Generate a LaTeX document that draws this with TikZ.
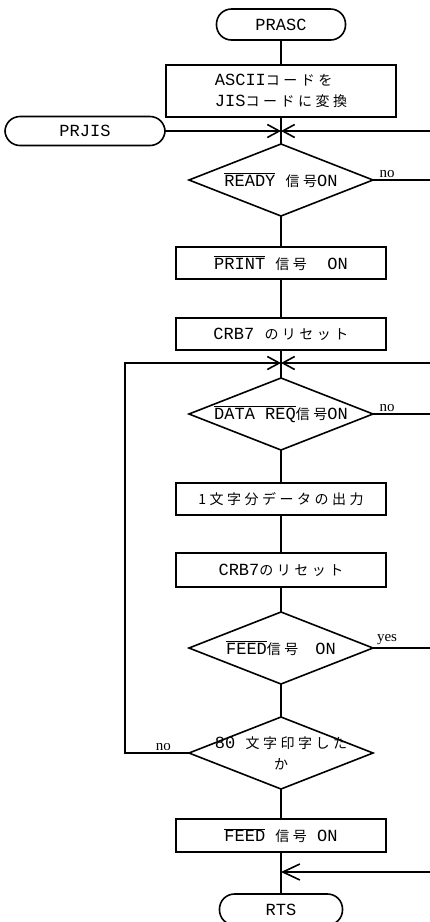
\documentclass[tikz,border=0pt]{standalone}
\usepackage{fontspec}
\setmainfont{Liberation Mono}
\newfontfamily\jp{Noto Sans CJK JP}[LetterSpace=25]
\newfontfamily\lbl{Liberation Serif}
\usetikzlibrary{arrows.meta,positioning,shapes.geometric}
\newcommand{\ovl}[1]{$\overline{\hbox{#1}}$}
\newcommand{\jpt}[1]{{\jp\fontsize{14}{17}\selectfont #1}}
\tikzset{
  term/.style={
    draw,line width=1.6pt,rounded corners=15pt,
    minimum height=31pt,inner sep=0pt,outer sep=0pt
  },
  proc/.style={
    draw,line width=1.6pt,
    minimum width=210pt,minimum height=32pt,inner sep=0pt,outer sep=0pt
  },
  dec/.style={
    draw,diamond,aspect=2.55,line width=1.6pt,
    minimum width=184pt,minimum height=72pt,inner sep=0pt,outer sep=0pt
  },
  wire/.style={line width=1.6pt},
  merge/.style={-{Straight Barb[length=12pt,width=13pt]},line width=1.6pt},
  lab/.style={font=\lbl\fontsize{15}{15}\selectfont,inner sep=2pt}
}

\begin{document}
\begin{tikzpicture}[x=1pt,y=-1pt,font=\fontsize{17}{21}\selectfont]
\useasboundingbox (0,0) rectangle (430,922);
\clip (0,0) rectangle (430,922);

\node[term,minimum width=129pt] (prasc) at (281,24.5) {PRASC};

\node[proc,minimum width=230pt,minimum height=52pt,align=left,below=25pt of prasc] (conv) {
ASCII\jpt{コードを}\\
JIS\jpt{コードに変換}
};

\coordinate[below=14pt of conv] (j1);
\node[term,minimum width=160pt,minimum height=29pt,left=116pt of j1] (prjis) {PRJIS};

\node[dec,below=27pt of conv] (rdy) {\ovl{READY} \jpt{信号}ON};
\node[proc,below=31pt of rdy] (prt) {\ovl{PRINT} \jpt{信号}\ \ ON};
\node[proc,below=39pt of prt] (crb1) {CRB7 \jpt{のリセット}};

\coordinate[below=13pt of crb1] (j2);

\node[dec,below=28pt of crb1] (dreq) {\ovl{DATA REQ}\jpt{信号}ON};
\node[proc,below=33pt of dreq] (out) {\jpt{1文字分データの出力}};
\node[proc,minimum height=34pt,below=38pt of out] (crb2) {CRB7\jpt{のリセット}};
\node[dec,below=25pt of crb2] (feed) {\ovl{FEED}\jpt{信号}\quad ON};
\node[dec,align=center,below=33pt of feed] (cnt) {
\makebox[0pt]{80 \jpt{文字印字した}}\\
\makebox[0pt]{\jpt{か}}
};
\node[proc,minimum height=33pt,below=30pt of cnt] (fdon) {\ovl{FEED} \jpt{信号} ON};

\coordinate[below=20pt of fdon] (j3);
\node[term,minimum width=123pt,below=42pt of fdon] (rts) {RTS};

\draw[wire] (prasc) -- (conv) -- (rdy) -- (prt) -- (crb1) -- (dreq) -- (out)
  -- (crb2) -- (feed) -- (cnt) -- (fdon) -- (rts);

\draw[merge] (prjis) -- (j1);
\draw[merge] (rdy.east) -- node[lab,above,pos=0.2] {no} ++(70,0) |- (j1);
\draw[merge] (dreq.east) -- node[lab,above,pos=0.2] {no} ++(70,0) |- (j2);
\draw[merge] (cnt.west) -- node[lab,above,pos=0.4] {no} ++(-64,0) |- (j2);
\draw[merge,-{Straight Barb[length=17pt,width=16pt]}] (feed.east)
  -- node[lab,above,pos=0.2] {yes} ++(70,0) |- (j3);

\end{tikzpicture}
\end{document}
